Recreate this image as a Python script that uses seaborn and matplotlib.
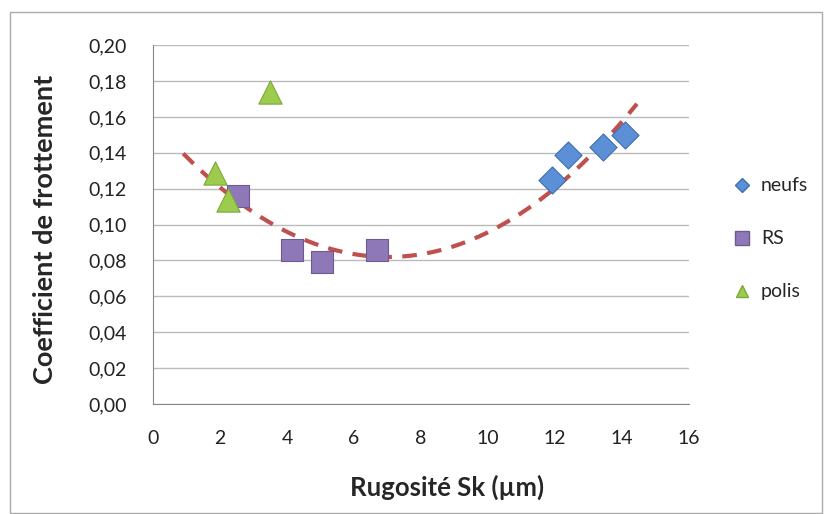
import numpy as np
import pandas as pd
import matplotlib
matplotlib.use('Agg')
import matplotlib.pyplot as plt
import seaborn as sns
from matplotlib.patches import Rectangle

# valeurs
neufs_x = [11.9, 12.4, 13.45, 14.1]
neufs_y = [0.125, 0.139, 0.143, 0.150]
rs_x = [2.55, 4.15, 5.05, 6.7]
rs_y = [0.116, 0.086, 0.079, 0.086]
polis_x = [1.85, 2.25, 3.5]
polis_y = [0.129, 0.114, 0.174]

# courbe de tendance (polynôme d'ordre 2) : points
tend_x = [0.9, 2.8, 4.5, 5.9, 7.3, 8.8, 10.9, 12.4, 14.45]
tend_y = [0.139, 0.110, 0.092, 0.084, 0.082, 0.0875, 0.104, 0.1265, 0.168]

series = ['neufs', 'RS', 'polis']
couleurs = {'neufs': '#5B8FD6', 'RS': '#8F78B8', 'polis': '#9CCB4E'}
bords = {'neufs': '#3F6FAF', 'RS': '#6C5A92', 'polis': '#7EA83A'}
marqueurs = {'neufs': 'D', 'RS': 's', 'polis': '^'}
tailles = {'neufs': 190, 'RS': 240, 'polis': 280}

df = pd.concat([
    pd.DataFrame({'x': neufs_x, 'y': neufs_y, 'serie': 'neufs'}),
    pd.DataFrame({'x': rs_x, 'y': rs_y, 'serie': 'RS'}),
    pd.DataFrame({'x': polis_x, 'y': polis_y, 'serie': 'polis'}),
], ignore_index=True)

sns.set_style('white')
plt.rcParams['font.family'] = ['Lato', 'DejaVu Sans']

fig = plt.figure(figsize=(8.25, 5.14), dpi=100)
ax = fig.add_axes([0.1855, 0.214, 0.835 - 0.1855, 0.912 - 0.214])

coef = np.polyfit(tend_x, tend_y, 2)
xt = np.linspace(tend_x[0], tend_x[-1], 200)
ax.plot(xt, np.polyval(coef, xt), color='#C0504D', lw=3, dashes=(3.5, 2.5), zorder=2)

for s in series:
    d = df[df['serie'] == s]
    sns.scatterplot(data=d, x='x', y='y', marker=marqueurs[s], s=tailles[s],
                    color=couleurs[s], edgecolor=bords[s], linewidth=0.8,
                    ax=ax, zorder=3, legend=False)

ax.set_xlim(0, 16)
ax.set_ylim(0, 0.20)
ax.set_xticks(np.arange(0, 17, 2))
ax.set_yticks(np.arange(0, 0.201, 0.02))
ax.set_yticklabels([f'{v:.2f}'.replace('.', ',') for v in np.arange(0, 0.201, 0.02)])
ax.tick_params(labelsize=14, colors='#222222', length=0, pad=19)
ax.yaxis.grid(True, color='#BBBBBB', lw=1)
ax.xaxis.grid(False)
for sp in ['top', 'right']:
    ax.spines[sp].set_visible(False)
for sp in ['left', 'bottom']:
    ax.spines[sp].set_color('#888888')

ax.set_xlabel('Rugosité Sk (µm)', fontsize=18.5, fontweight='bold')
ax.set_ylabel('Coefficient de frottement', fontsize=19.5, fontweight='bold')
ax.xaxis.set_label_coords(0.549, -0.231)
ax.yaxis.set_label_coords(-0.2015, 0.487)
ax.xaxis.label.set_va('center')
ax.yaxis.label.set_va('center')

# légende
poignees = [plt.Line2D([], [], ls='', marker=marqueurs[s], ms={'neufs': 7, 'RS': 10, 'polis': 9}[s],
                       markerfacecolor=couleurs[s], markeredgecolor=bords[s])
            for s in series]
ax.legend(poignees, series, loc='center left', bbox_to_anchor=(1.04, 0.46),
          frameon=False, fontsize=14, labelspacing=1.85, handletextpad=0.2, handlelength=1.5)

fig.patches.append(Rectangle((10 / 825, 0.002), 812 / 825, 1 - 12 / 514 - 0.002,
                             transform=fig.transFigure, fill=False, ec='#AAAAAA', lw=1))

fig.savefig('out.png', dpi=100)
